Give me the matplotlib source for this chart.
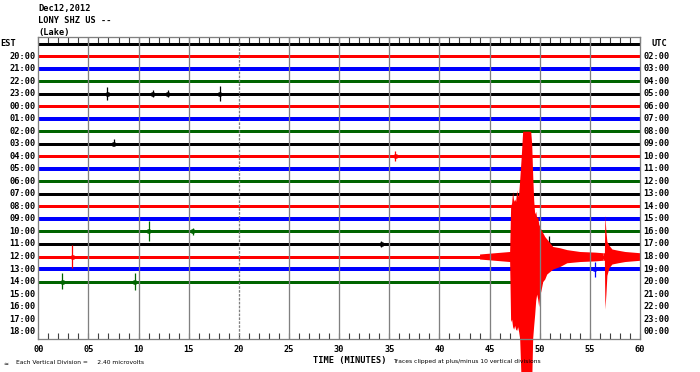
import matplotlib
matplotlib.use("Agg")
import matplotlib.pyplot as plt
import numpy as np

# --- chart values ---
title_lines = ["Dec12,2012", "LONY SHZ US --", "(Lake)"]

est_labels = ["EST", "20:00", "21:00", "22:00", "23:00", "00:00", "01:00", "02:00",
              "03:00", "04:00", "05:00", "06:00", "07:00", "08:00", "09:00", "10:00",
              "11:00", "12:00", "13:00", "14:00", "15:00", "16:00", "17:00", "18:00"]
utc_labels = ["UTC", "02:00", "03:00", "04:00", "05:00", "06:00", "07:00", "08:00",
              "09:00", "10:00", "11:00", "12:00", "13:00", "14:00", "15:00", "16:00",
              "17:00", "18:00", "19:00", "20:00", "21:00", "22:00", "23:00", "00:00"]

trace_colors = ["black", "red", "blue", "#006400"]

# minutes recorded on each drawn line (the last one is still being written)
trace_end = [60, 60, 60, 60, 60, 60, 60, 60, 60, 60,
             60, 60, 60, 60, 60, 60, 60, 60, 60, 50.2]
# background noise band, pixels thick
trace_band = [3, 3, 4, 3, 3, 3, 4, 3, 3, 3,
              4, 3, 3, 3, 4, 3, 3, 3, 4, 3]

# the big event on the 12:00 line (row 17), envelope in vertical divisions
quake_row = 17
quake_t = [44.0, 45.5, 47.0, 47.1, 47.2, 47.3, 47.4, 47.5, 47.6, 47.7, 47.8, 47.9,
           48.0, 48.15, 48.3, 49.1, 49.2, 49.3, 49.4, 49.5, 49.6, 49.7, 49.8, 49.9,
           50.0, 50.1, 50.3, 50.5, 50.7, 51.0, 51.3, 52.0, 52.7, 54.0, 55.5, 56.3]
quake_up = [0.2, 0.3, 0.4, 4.0, 4.3, 5.2, 4.4, 4.6, 4.4, 5.3, 4.8, 5.0,
            6.1, 7.9, 10, 10, 9.0, 6.5, 4.5, 3.4, 3.6, 3.1, 3.2, 2.6,
            2.4, 2.2, 1.9, 1.6, 1.4, 1.1, 0.8, 0.7, 0.55, 0.4, 0.35, 0.3]
quake_dn = [0.2, 0.3, 0.4, 5.2, 5.0, 5.6, 5.8, 5.5, 5.8, 5.9, 5.6, 6.0,
            6.5, 10, 10, 10, 10, 6.5, 5.5, 4.6, 3.5, 3.0, 3.4, 4.0,
            3.0, 2.8, 2.0, 1.8, 1.4, 1.2, 1.0, 0.8, 0.5, 0.4, 0.35, 0.3]

# aftershock on the same line
after_t = [56.3, 56.45, 56.5, 56.6, 56.7, 56.9, 57.2, 57.8, 58.5, 60.0]
after_up = [0.3, 0.3, 3.3, 2.0, 1.2, 0.9, 0.6, 0.5, 0.4, 0.3]
after_dn = [0.3, 0.3, 4.2, 3.0, 1.5, 0.9, 0.6, 0.5, 0.4, 0.3]

# small local spikes: row, minute, up, down (divisions)
spike_row = [4, 4, 4, 4, 8, 9, 15, 15, 16, 16, 17, 18, 19, 19]
spike_min = [6.9, 11.4, 12.9, 18.1, 7.5, 35.6, 11.0, 15.4, 34.2, 50.9, 3.4, 55.5, 2.4, 9.6]
spike_up = [0.5, 0.25, 0.3, 0.6, 0.35, 0.4, 0.8, 0.3, 0.25, 0.6, 0.9, 0.6, 0.7, 0.7]
spike_dn = [0.5, 0.25, 0.3, 0.6, 0.1, 0.4, 0.8, 0.3, 0.25, 0.3, 0.9, 0.6, 0.6, 0.7]

minute_labels = ["00", "05", "10", "15", "20", "25", "30", "35", "40", "45", "50", "55", "60"]

# --- figure ---
W, H = 700, 372
fig = plt.figure(figsize=(W / 100, H / 100), dpi=100)
x0, x1, y_top, y_bot = 38.3, 640.0, 37.0, 339.0
ax = fig.add_axes([x0 / W, 1 - y_bot / H, (x1 - x0) / W, (y_bot - y_top) / H])

row_px = 12.53
first_row_px = 43.5
ax.set_xlim(0, 60)
ax.set_ylim(-(y_bot - first_row_px) / row_px, (first_row_px - y_top) / row_px)

px2pt = 72 / 100
mono = dict(family="DejaVu Sans Mono", weight="bold", fontsize=6.2)

for i, end in enumerate(trace_end):
    ax.plot([0, end], [-i, -i], color=trace_colors[i % 4],
            lw=trace_band[i] * px2pt, solid_capstyle="butt", zorder=2)

for r, m, u, d in zip(spike_row, spike_min, spike_up, spike_dn):
    ax.vlines(m, -r - d, -r + u, color=trace_colors[r % 4], lw=0.9, zorder=3)
    ax.plot([m - 0.15, m + 0.15], [-r, -r], color=trace_colors[r % 4],
            lw=4.5 * px2pt, solid_capstyle="butt", zorder=3)

qt = np.array(quake_t)
ax.fill_between(qt, -quake_row + np.array(quake_up), -quake_row - np.array(quake_dn),
                color="red", lw=0, zorder=4, clip_on=False)
at = np.array(after_t)
ax.fill_between(at, -quake_row + np.array(after_up), -quake_row - np.array(after_dn),
                color="red", lw=0, zorder=4, clip_on=False)

# 5 minute divisions (20 drawn dotted)
for m in range(5, 60, 5):
    ls = (0, (2, 1)) if m == 20 else "-"
    ax.axvline(m, color="#808080", lw=1.3 * px2pt, ls=ls, zorder=5)

for s in ax.spines.values():
    s.set_color("#808080")
    s.set_linewidth(1.3 * px2pt)
    s.set_zorder(6)

ax.set_xticks(np.arange(0, 61, 5))
ax.set_xticklabels(minute_labels, **mono)
ax.set_xticks(np.arange(0, 61, 1), minor=True)
ax.tick_params(axis="x", which="both", direction="in", color="#404040",
               top=True, width=0.8, pad=4)
ax.tick_params(axis="x", which="major", length=4)
ax.tick_params(axis="x", which="minor", length=4)
ax.tick_params(axis="x", which="both", top=True, labeltop=False)
ax.set_yticks([])

ytr = ax.get_yaxis_transform()
for i, lab in enumerate(est_labels):
    if i == 0:
        ax.text(-x0 / (x1 - x0), -i, lab, transform=ytr, ha="left", va="center", **mono)
    else:
        ax.text(-2.5 / (x1 - x0), -i, lab, transform=ytr, ha="right", va="center", **mono)
for i, lab in enumerate(utc_labels):
    xo = 11 if i == 0 else 3
    ax.text(1 + xo / (x1 - x0), -i, lab, transform=ytr, ha="left", va="center", **mono)

for k, line in enumerate(title_lines):
    fig.text(38 / W, 1 - (8 + 12.3 * k) / H, line, ha="left", va="center", **mono)

fig.text(313 / W, 1 - 361 / H, "TIME (MINUTES)", ha="left", va="center", **mono)
small = dict(family="DejaVu Sans", fontsize=4.3)
fig.text(3 / W, 1 - 364 / H, "\u2248", ha="left", va="center", **small)
fig.text(16 / W, 1 - 362 / H, "Each Vertical Division =     2.40 microvolts",
         ha="left", va="center", **small)
fig.text(393 / W, 1 - 362 / H, "Traces clipped at plus/minus 10 vertical divisions",
         ha="left", va="center", **small)

fig.savefig("out.png", dpi=100)
